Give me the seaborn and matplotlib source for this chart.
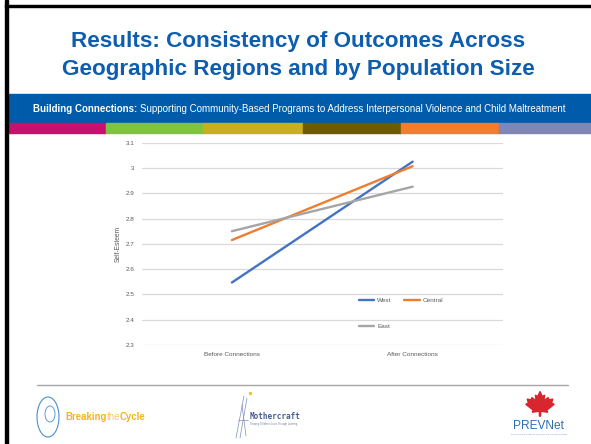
import matplotlib
matplotlib.use("Agg")
import matplotlib.pyplot as plt
from matplotlib.patches import Rectangle, Ellipse, Polygon
from matplotlib.lines import Line2D
from matplotlib.ticker import FuncFormatter
import seaborn as sns
import pandas as pd

# Chart data
phases = ["Before Connections", "After Connections"]
west = [2.547, 3.025]
central = [2.715, 3.007]
east = [2.750, 2.926]
regions = ["West", "Central", "East"]
y_ticks = [2.3, 2.4, 2.5, 2.6, 2.7, 2.8, 2.9, 3.0, 3.1]

df = pd.DataFrame({
    "Phase": phases * 3,
    "Self-Esteem": west + central + east,
    "Region": ["West"] * 2 + ["Central"] * 2 + ["East"] * 2,
})

sns.set_theme(style="white")
plt.rcParams["font.family"] = ["Liberation Sans", "DejaVu Sans"]

W, H = 591, 444
fig = plt.figure(figsize=(W / 100, H / 100), dpi=100)
fig.patch.set_facecolor("white")


def fx(x):
    return x / W


def fy(y):
    return 1 - y / H


# Slide frame
fig.add_artist(Rectangle((fx(5), fy(H)), fx(2.5), H / H, transform=fig.transFigure,
                         color="black", zorder=5))
fig.add_artist(Rectangle((fx(5), fy(7.5)), 1, 2.5 / H, transform=fig.transFigure,
                         color="black", zorder=5))

# Title
title_blue = "#0E5DAE"
fig.text(fx(298), fy(41), "Results: Consistency of Outcomes Across", ha="center", va="center",
         fontsize=16.2, fontweight="bold", color=title_blue)
fig.text(fx(298), fy(70), "Geographic Regions and by Population Size", ha="center", va="center",
         fontsize=16.2, fontweight="bold", color=title_blue)

# Blue banner with subtitle
fig.add_artist(Rectangle((fx(7.5), fy(123)), 1, 29 / H, transform=fig.transFigure,
                         color="#005BAA", zorder=1))
t1 = fig.text(fx(33), fy(109), "Building Connections:", ha="left", va="center",
              fontsize=7.0, fontweight="bold", color="white")
fig.canvas.draw()
bb = t1.get_window_extent()
fig.text(bb.x1 / W + fx(2.5), fy(109),
         "Supporting Community-Based Programs to Address Interpersonal Violence and Child Maltreatment",
         ha="left", va="center", fontsize=7.0, color="white")

# Colour stripe
stripe_edges = [7.5, 106, 203, 303, 401, 499, 591]
stripe_cols = ["#C8106F", "#80C241", "#C8AF1D", "#6E5A00", "#F47C2B", "#7F87B5"]
for i, c in enumerate(stripe_cols):
    x0, x1 = stripe_edges[i], stripe_edges[i + 1]
    fig.add_artist(Rectangle((fx(x0), fy(133)), (x1 - x0) / W, 10 / H,
                             transform=fig.transFigure, color=c, zorder=1))

# Line chart
ax = fig.add_axes([fx(141.5), fy(345), (503 - 141.5) / W, (345 - 142.7) / H])
palette = {"West": "#4472C4", "Central": "#ED7D31", "East": "#A5A5A5"}
sns.lineplot(data=df, x="Phase", y="Self-Esteem", hue="Region", hue_order=regions,
             palette=palette, linewidth=1.7, sort=False, ax=ax, legend=False)
ax.set_xlim(-0.5, 1.5)
ax.set_ylim(2.3, 3.1)
ax.set_yticks(y_ticks)
ax.yaxis.set_major_formatter(FuncFormatter(lambda v, p: f"{v:g}"))
ax.grid(axis="y", color="#D9D9D9", linewidth=0.9)
ax.set_axisbelow(True)
for s in ax.spines.values():
    s.set_visible(False)
ax.tick_params(axis="both", length=0, labelsize=4.6, labelcolor="#595959")
ax.tick_params(axis="y", pad=5)
ax.tick_params(axis="x", pad=5)
ax.set_xlabel("")
ax.set_ylabel("Self-Esteem", fontsize=4.8, color="#595959", labelpad=2.5)

handles = [Line2D([], [], color=palette[r], linewidth=1.7) for r in regions]
order = [0, 2, 1]
ax.legend([handles[i] for i in order], [regions[i] for i in order], ncol=2,
          loc="upper left", bbox_to_anchor=(fx(359), fy(297.3)), bbox_transform=fig.transFigure,
          frameon=False, fontsize=4.6, labelcolor="#595959", borderpad=0, borderaxespad=0,
          handlelength=2.4, handletextpad=0.45, columnspacing=2.0, labelspacing=3.25)

# Footer rule
fig.add_artist(Line2D([fx(37), fx(568)], [fy(385), fy(385)], transform=fig.transFigure,
                      color="#A6A6A6", linewidth=1.0))

# Footer logos (drawn as simple marks and text)
fig.add_artist(Ellipse((fx(48), fy(417)), 22 / W, 40 / H, transform=fig.transFigure,
                       fill=False, edgecolor="#4A8FD0", linewidth=0.8))
fig.add_artist(Ellipse((fx(50), fy(414)), 10 / W, 16 / H, transform=fig.transFigure,
                       fill=False, edgecolor="#4A8FD0", linewidth=0.6))
b1 = fig.text(fx(65), fy(417), "Breaking", ha="left", va="center", fontsize=6.9,
              fontweight="bold", color="#F6B31B")
fig.canvas.draw()
e1 = b1.get_window_extent()
b2 = fig.text(e1.x1 / W, fy(417), "the", ha="left", va="center", fontsize=6.9,
              color="#F8C860")
fig.canvas.draw()
e2 = b2.get_window_extent()
fig.text(e2.x1 / W, fy(417), "Cycle", ha="left", va="center", fontsize=6.9,
         fontweight="bold", color="#F6B31B")

for (xa, ya, xb, yb) in [(244, 396, 236, 438), (247, 398, 240, 438), (242, 405, 246, 436),
                         (238, 420, 248, 420)]:
    fig.add_artist(Line2D([fx(xa), fx(xb)], [fy(ya), fy(yb)], transform=fig.transFigure,
                          color="#7C8DB8", linewidth=0.5))
fig.add_artist(Line2D([fx(250)], [fy(393)], transform=fig.transFigure, marker="o",
                      markersize=1.5, color="#F2C230", linewidth=0))
fig.text(fx(250), fy(416), "Mothercraft", ha="left", va="center", fontsize=5.6,
         fontweight="bold", color="#4C5D8F", family=["DejaVu Sans Mono", "DejaVu Sans"])
fig.text(fx(250), fy(424), "Shaping Children's Lives Through Learning", ha="left", va="center",
         fontsize=1.8, color="#6B7AA5")

leaf = [(0, 10), (1.6, 6.5), (3.2, 7.5), (2.6, 3.6), (5.6, 5.8), (6.3, 4.2), (8.8, 4.8),
        (8.0, 2.0), (9.8, 1.2), (4.8, -2.8), (5.3, -4.3), (0.4, -3.6), (0.4, -7),
        (-0.4, -7), (-0.4, -3.6), (-5.3, -4.3), (-4.8, -2.8), (-9.8, 1.2), (-8.0, 2.0),
        (-8.8, 4.8), (-6.3, 4.2), (-5.6, 5.8), (-2.6, 3.6), (-3.2, 7.5), (-1.6, 6.5)]
cx, cy, sc = 540, 406, 1.45
pts = [(fx(cx + px * sc), fy(cy - py * sc)) for px, py in leaf]
fig.add_artist(Polygon(pts, closed=True, transform=fig.transFigure, color="#D7262E"))
fig.text(fx(539), fy(426), "PREVNet", ha="center", va="center", fontsize=8.6,
         color="#2F6DB2")
fig.text(fx(539), fy(434), "Promoting Relationships & Eliminating Violence Network", ha="center",
         va="center", fontsize=1.6, color="#6C8FC5")

fig.savefig("out.png", dpi=100, facecolor="white")
